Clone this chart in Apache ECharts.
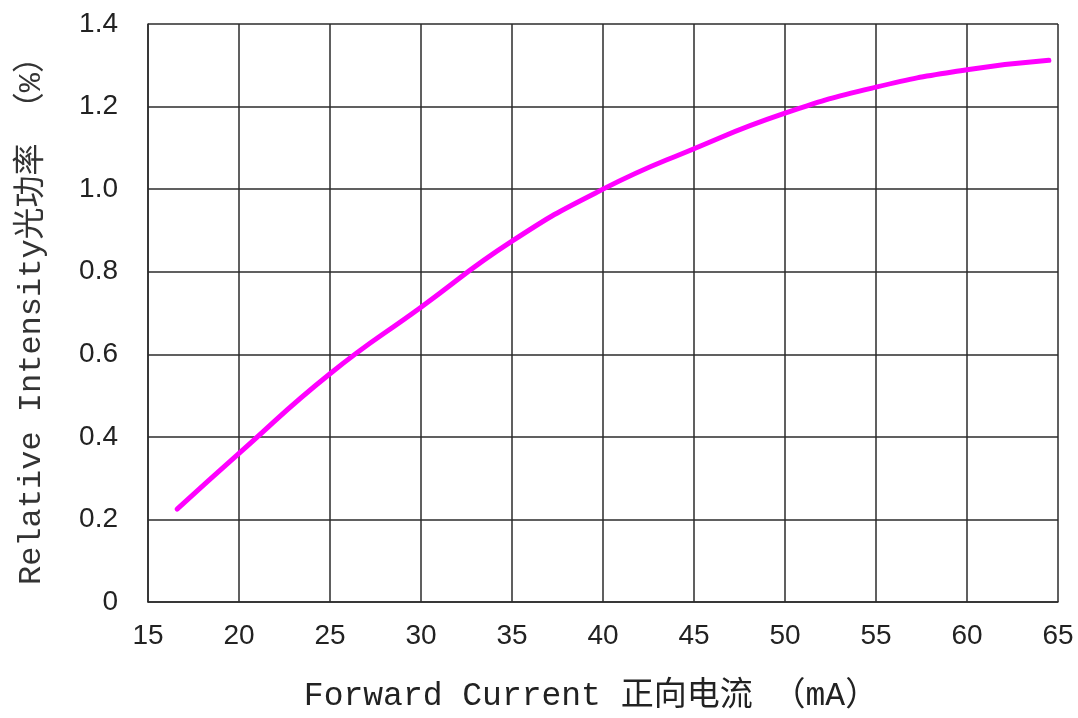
<!DOCTYPE html>
<html>
<head>
<meta charset="utf-8">
<script src="https://cdn.jsdelivr.net/npm/echarts@6/dist/echarts.min.js"></script>
<style>html,body{margin:0;padding:0;background:#fff;overflow:hidden;}#chart{width:1078px;height:718px;}</style>
</head>
<body>
<div id="chart"></div>
<script>
const currentMA = [16.6, 20, 25, 30, 35, 40, 45, 50, 55, 60, 64.5];
const relIntensity = [0.225, 0.36, 0.553, 0.714, 0.874, 1.0, 1.098, 1.184, 1.247, 1.289, 1.312];
const xTicks = [15, 20, 25, 30, 35, 40, 45, 50, 55, 60, 65];
const yTicks = ['0', '0.2', '0.4', '0.6', '0.8', '1.0', '1.2', '1.4'];
const xName = 'Forward Current 正向电流 （mA）';
const yName = 'Relative Intensity光功率 （%）';

const chart = echarts.init(document.getElementById('chart'), null, {renderer: 'canvas', width: 1078, height: 718});
const gridColor = '#2b2b2b';
chart.setOption({
  animation: false,
  backgroundColor: '#fff',
  grid: {left: 148, right: 20, top: 24, bottom: 114},
  xAxis: {
    type: 'value', min: xTicks[0], max: xTicks[xTicks.length - 1], interval: 5,
    name: xName, nameLocation: 'middle', nameGap: 78,
    nameTextStyle: {fontFamily: 'Liberation Mono, Noto Sans CJK SC', fontSize: 33, color: '#222', padding: [0, 24, 0, 0]},
    axisLine: {lineStyle: {color: gridColor, width: 1.5}},
    axisTick: {show: false},
    axisLabel: {fontFamily: 'Liberation Sans, Arial', fontSize: 28, color: '#222', margin: 20},
    splitLine: {show: true, lineStyle: {color: gridColor, width: 1.5}}
  },
  yAxis: {
    type: 'value', min: 0, max: 1.4, interval: 0.2,
    name: yName, nameLocation: 'middle', nameGap: 100, nameRotate: 90,
    nameTextStyle: {fontFamily: 'Liberation Mono, Noto Sans CJK SC', fontSize: 32, color: '#333'},
    axisLine: {lineStyle: {color: gridColor, width: 1.5}},
    axisTick: {show: false},
    axisLabel: {
      fontFamily: 'Liberation Sans, Arial', fontSize: 28, color: '#222', margin: 30,
      formatter: function (v) { const i = Math.round(v / 0.2); return yTicks[i] !== undefined ? yTicks[i] : ''; }
    },
    splitLine: {show: true, lineStyle: {color: gridColor, width: 1.5}}
  },
  series: [{
    type: 'line',
    data: currentMA.map((x, i) => [x, relIntensity[i]]),
    smooth: 0.5,
    showSymbol: false,
    lineStyle: {color: '#ff00ff', width: 5, cap: 'round'}
  }]
});
</script>
</body>
</html>
